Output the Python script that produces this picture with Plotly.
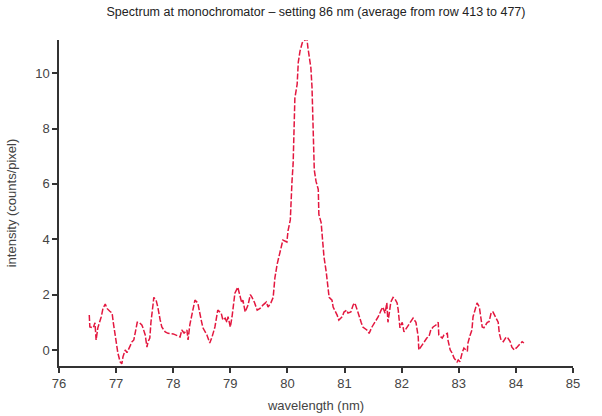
import plotly.graph_objects as go

wavelength = [
    76.53, 76.54, 76.60, 76.63, 76.65, 76.68, 76.74, 76.77, 76.81, 76.84, 76.89, 76.93, 76.95,
    77.00, 77.03, 77.07, 77.10, 77.12, 77.16, 77.19, 77.23, 77.28, 77.31, 77.33, 77.37, 77.40,
    77.45, 77.47, 77.51, 77.54, 77.56, 77.59, 77.61, 77.65, 77.66, 77.70, 77.73, 77.77, 77.80,
    77.86, 77.91, 78.00, 78.07, 78.12, 78.15, 78.19, 78.24, 78.26, 78.29, 78.33, 78.35, 78.38,
    78.43, 78.45, 78.49, 78.52, 78.59, 78.64, 78.68, 78.73, 78.77, 78.78, 78.84, 78.87, 78.91,
    78.94, 78.96, 79.00, 79.03, 79.05, 79.08, 79.13, 79.17, 79.20, 79.22, 79.26, 79.31, 79.35,
    79.38, 79.42, 79.47, 79.52, 79.57, 79.63, 79.66, 79.71, 79.75, 79.78, 79.82, 79.84, 79.89,
    79.92, 79.99, 80.01, 80.05, 80.06, 80.08, 80.10, 80.11, 80.12, 80.13, 80.17, 80.19, 80.22,
    80.26, 80.31, 80.34, 80.36, 80.38, 80.41, 80.43, 80.44, 80.45, 80.47, 80.50, 80.54, 80.55,
    80.59, 80.61, 80.64, 80.68, 80.71, 80.73, 80.78, 80.80, 80.87, 80.90, 80.96, 80.99, 81.04,
    81.06, 81.11, 81.15, 81.18, 81.22, 81.24, 81.29, 81.32, 81.39, 81.43, 81.48, 81.53, 81.59,
    81.64, 81.67, 81.71, 81.74, 81.76, 81.81, 81.85, 81.88, 81.92, 81.94, 81.97, 82.01, 82.04,
    82.10, 82.15, 82.20, 82.25, 82.29, 82.30, 82.36, 82.39, 82.44, 82.48, 82.51, 82.55, 82.60,
    82.64, 82.65, 82.71, 82.74, 82.80, 82.81, 82.85, 82.88, 82.92, 82.97, 82.99, 83.02, 83.06,
    83.09, 83.15, 83.16, 83.20, 83.23, 83.25, 83.29, 83.32, 83.36, 83.39, 83.41, 83.44, 83.50,
    83.53, 83.57, 83.60, 83.64, 83.69, 83.71, 83.74, 83.78, 83.83, 83.86, 83.90, 83.93, 83.97,
    84.02, 84.06, 84.11, 84.14,
]

intensity = [
    1.26, 0.83, 0.80, 0.98, 0.36, 0.80, 1.20, 1.50, 1.66, 1.50, 1.40, 1.33, 1.00,
    0.36, -0.10, -0.43, -0.50, -0.25, 0.00, -0.10, 0.10, 0.30, 0.36, 0.60, 1.00, 1.00,
    0.90, 0.80, 0.54, 0.10, 0.30, 0.43, 1.00, 1.70, 1.90, 1.80, 1.55, 1.10, 0.83,
    0.65, 0.60, 0.58, 0.50, 0.47, 0.72, 0.61, 0.72, 0.36, 0.90, 1.33, 1.55, 1.80,
    1.70, 1.44, 1.08, 0.80, 0.54, 0.25, 0.47, 0.83, 1.33, 1.44, 1.33, 1.08, 1.15,
    1.00, 1.20, 0.83, 1.20, 1.55, 2.05, 2.27, 1.90, 1.70, 1.80, 1.37, 1.62, 2.00,
    1.90, 1.73, 1.44, 1.50, 1.62, 1.73, 1.55, 1.70, 1.90, 2.60, 3.10, 3.30, 3.70,
    3.97, 3.90, 4.30, 4.70, 5.30, 6.10, 6.75, 7.30, 8.05, 9.10, 9.60, 10.40, 10.80,
    11.10, 11.20, 11.26, 10.90, 10.60, 10.20, 9.50, 8.55, 7.60, 6.50, 6.10, 5.80, 4.90,
    4.60, 4.10, 3.36, 2.80, 2.30, 1.90, 1.80, 1.55, 1.26, 1.08, 1.20, 1.37, 1.44,
    1.33, 1.37, 1.62, 1.70, 1.50, 1.33, 1.00, 0.83, 0.72, 0.60, 0.83, 1.00, 1.20,
    1.44, 1.55, 1.33, 1.70, 1.00, 1.73, 1.90, 1.85, 1.70, 1.44, 0.80, 1.00, 0.65,
    0.83, 1.00, 1.15, 1.00, 0.47, 0.00, 0.18, 0.30, 0.43, 0.50, 0.72, 0.83, 0.90,
    1.00, 0.54, 0.43, 0.54, 0.60, 0.36, 0.00, -0.10, -0.30, -0.43, -0.36, -0.43, -0.10,
    0.07, -0.05, 0.25, 0.54, 0.72, 1.20, 1.50, 1.70, 1.55, 1.20, 0.83, 0.80, 1.00,
    1.02, 1.37, 1.37, 1.20, 1.00, 0.60, 0.36, 0.30, 0.47, 0.43, 0.30, 0.10, 0.00,
    0.10, 0.18, 0.30, 0.25,
]

x_ticks = [76, 77, 78, 79, 80, 81, 82, 83, 84, 85]
y_ticks = [0, 2, 4, 6, 8, 10]

title_text = "Spectrum at monochromator \u2013 setting 86 nm (average from row 413 to 477)"
x_label = "wavelength (nm)"
y_label = "intensity (counts/pixel)"

fig = go.Figure()
fig.add_trace(go.Scatter(
    x=wavelength, y=intensity, mode="lines",
    line=dict(color="#e3173f", width=1.5, dash="6px,2px"),
    showlegend=False,
))

font_family = "Liberation Sans, Arial, sans-serif"
fig.update_layout(
    width=602, height=416,
    paper_bgcolor="white", plot_bgcolor="white",
    margin=dict(l=59, r=29, t=40, b=50, autoexpand=False),
    title=dict(text=title_text, x=0.5, xref="paper", xanchor="center",
               y=0.982, yanchor="top",
               font=dict(family=font_family, size=12.5, color="#222")),
    font=dict(family=font_family, size=13, color="#444"),
)
fig.update_xaxes(
    range=[76, 85], tickvals=x_ticks, ticktext=[str(v) for v in x_ticks],
    showline=True, linecolor="#333", linewidth=1.5, mirror=False,
    ticks="outside", ticklen=5, tickwidth=1.5, tickcolor="#333",
    showgrid=False, zeroline=False, automargin=False,
    title=dict(text=x_label, standoff=11, font=dict(size=13, color="#444")),
)
fig.update_yaxes(
    range=[-0.58, 11.2], tickvals=y_ticks, ticktext=[str(v) for v in y_ticks],
    showline=True, linecolor="#333", linewidth=1.5, mirror=False,
    ticks="outside", ticklen=5, tickwidth=1.5, tickcolor="#333",
    showgrid=False, zeroline=False, automargin=False,
    title=dict(text=y_label, standoff=16, font=dict(size=13, color="#444")),
)

fig.write_html(
    "out.html",
    config={"displayModeBar": False},
    post_script="document.body.style.margin='0';document.body.style.overflow='hidden';",
)
